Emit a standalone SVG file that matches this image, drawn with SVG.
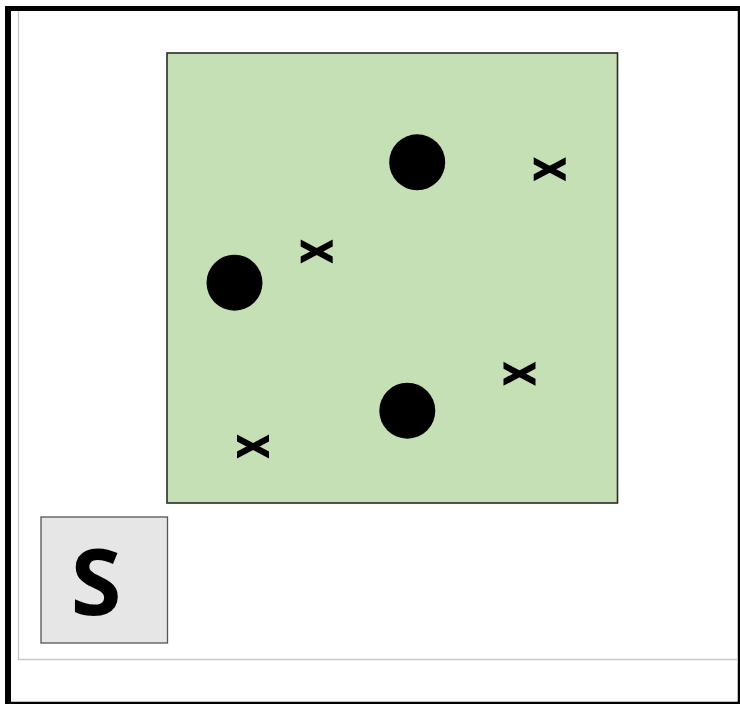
<svg xmlns="http://www.w3.org/2000/svg" width="740" height="704" viewBox="0 0 740 704">
<style>
.frame{stroke:#000;fill:none}
.guide{stroke:#c8c8c8;stroke-width:1.3;fill:none}
.field{fill:#c5e0b4;stroke:#2b2b2b;stroke-width:1.6}
.sbox{fill:#e6e6e6;stroke:#555;stroke-width:1.3}
.dot{fill:#000}
.slabel{font-family:"Open Sans","Noto Sans",sans-serif;font-weight:700;font-size:92px;fill:#000}
</style>
<defs>
<path id="cross" d="M-16,-12 L16,5 L16,12 L-16,-5 Z M-16,5 L16,-12 L16,-5 L-16,12 Z" fill="#000" fill-rule="nonzero"/>
</defs>
<rect width="740" height="704" fill="#fff"/>
<g id="frame">
<line class="frame" x1="5" y1="8.5" x2="740" y2="8.5" stroke-width="5"/>
<line class="frame" x1="8" y1="6" x2="8" y2="704" stroke-width="6"/>
<line class="frame" x1="739" y1="8" x2="739" y2="704" stroke-width="2.5"/>
<line class="frame" x1="5" y1="703" x2="740" y2="703" stroke-width="2.5"/>
<path class="guide" d="M18.5,11 V659.5 H738"/>
</g>
<g id="field">
<rect class="field" x="167" y="53" width="450.5" height="450"/>
</g>
<g id="circles">
<circle class="dot" cx="417.2" cy="162.3" r="28"/>
<circle class="dot" cx="234.5" cy="282.7" r="28"/>
<circle class="dot" cx="407.3" cy="410.7" r="28"/>
</g>
<g id="crosses">
<use href="#cross" x="549.7" y="169.2"/>
<use href="#cross" x="316.7" y="251.5"/>
<use href="#cross" x="519.5" y="373.8"/>
<use href="#cross" x="253" y="446.5"/>
</g>
<g id="s-box">
<rect class="sbox" x="41" y="517" width="126.5" height="126"/>
<text class="slabel" x="96" y="615" text-anchor="middle">S</text>
</g>
</svg>
